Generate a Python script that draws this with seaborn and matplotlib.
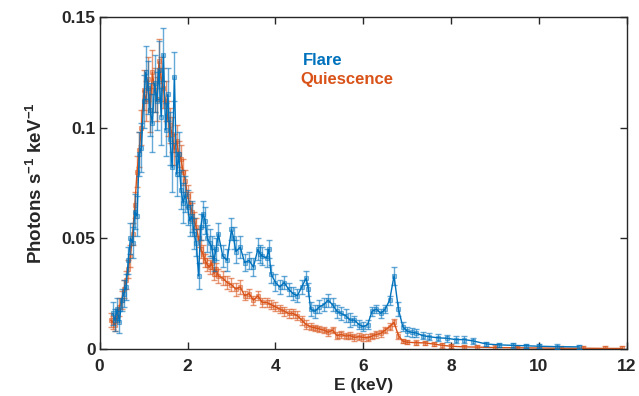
import numpy as np
import pandas as pd
import matplotlib
matplotlib.use('Agg')
import matplotlib.pyplot as plt
import seaborn as sns
from matplotlib.colors import to_rgba
from matplotlib.ticker import FormatStrFormatter

# flare spectrum
flare_e = [0.30,0.35,0.40,0.45,0.50,0.55,0.60,0.65,0.70,0.75,
           0.80,0.85,0.90,0.95,1.00,1.05,1.10,1.15,1.20,1.25,
           1.30,1.35,1.40,1.45,1.50,1.55,1.60,1.65,1.70,1.75,
           1.80,1.85,1.90,1.95,2.00,2.05,2.10,2.15,2.20,2.25,
           2.30,2.35,2.40,2.45,2.50,2.55,2.60,2.65,2.70,2.80,
           2.90,3.00,3.05,3.10,3.20,3.30,3.40,3.50,3.60,3.65,
           3.70,3.80,3.85,3.90,4.00,4.10,4.20,4.30,4.40,4.50,
           4.60,4.70,4.75,4.80,4.90,5.00,5.10,5.20,5.30,5.40,
           5.50,5.60,5.70,5.80,5.90,6.00,6.10,6.20,6.30,6.40,
           6.50,6.60,6.70,6.80,6.90,7.00,7.10,7.20,7.35,7.50,
           7.70,7.90,8.10,8.30,8.50,8.80,9.10,9.40,9.70,10.0,
           10.4,10.9]
flare_rate = [0.016,0.013,0.018,0.012,0.022,0.025,0.028,0.040,0.050,0.048,
              0.062,0.060,0.088,0.091,0.112,0.125,0.118,0.108,0.102,0.120,
              0.112,0.126,0.105,0.133,0.099,0.115,0.095,0.082,0.123,0.079,
              0.088,0.072,0.066,0.070,0.064,0.058,0.060,0.052,0.048,0.033,
              0.055,0.061,0.058,0.050,0.048,0.046,0.040,0.045,0.052,0.042,
              0.040,0.054,0.050,0.044,0.046,0.039,0.040,0.037,0.045,0.043,
              0.042,0.041,0.045,0.034,0.030,0.028,0.030,0.027,0.025,0.024,
              0.028,0.032,0.027,0.018,0.017,0.019,0.020,0.022,0.020,0.017,
              0.016,0.015,0.013,0.013,0.011,0.010,0.011,0.017,0.018,0.016,
              0.018,0.022,0.033,0.018,0.010,0.008,0.0075,0.0072,0.006,0.0055,
              0.005,0.0048,0.0042,0.0042,0.0036,0.0022,0.0018,0.0016,0.0014,0.0012,
              0.0010,0.0009]
flare_err = [0.005,0.005,0.005,0.005,0.005,0.006,0.006,0.006,0.007,0.007,
             0.008,0.009,0.010,0.011,0.012,0.012,0.012,0.012,0.013,0.013,
             0.013,0.013,0.013,0.012,0.012,0.012,0.012,0.011,0.011,0.010,
             0.010,0.009,0.009,0.008,0.008,0.007,0.007,0.007,0.006,0.006,
             0.006,0.006,0.006,0.006,0.006,0.005,0.005,0.005,0.005,0.005,
             0.005,0.005,0.005,0.005,0.005,0.004,0.004,0.004,0.005,0.004,
             0.004,0.004,0.004,0.004,0.004,0.003,0.003,0.003,0.003,0.003,
             0.003,0.003,0.003,0.003,0.003,0.003,0.003,0.003,0.003,0.003,
             0.003,0.003,0.003,0.002,0.002,0.002,0.002,0.002,0.002,0.002,
             0.002,0.002,0.004,0.003,0.002,0.002,0.002,0.002,0.0015,0.0015,
             0.0015,0.0015,0.0015,0.0015,0.0012,0.001,0.001,0.001,0.001,0.001,
             0.001,0.001]

# quiescent spectrum
quiet_e = [0.25,0.30,0.35,0.40,0.45,0.50,0.55,0.60,0.65,0.70,
           0.75,0.80,0.85,0.90,0.95,1.00,1.05,1.10,1.15,1.20,
           1.25,1.30,1.35,1.40,1.45,1.50,1.55,1.60,1.65,1.70,
           1.75,1.80,1.85,1.90,1.95,2.00,2.05,2.10,2.15,2.20,
           2.25,2.30,2.35,2.40,2.45,2.50,2.55,2.60,2.65,2.70,
           2.80,2.90,3.00,3.10,3.20,3.30,3.40,3.50,3.60,3.70,
           3.80,3.90,4.00,4.10,4.20,4.30,4.40,4.50,4.60,4.70,
           4.80,4.90,5.00,5.10,5.20,5.30,5.40,5.50,5.60,5.70,
           5.80,5.90,6.00,6.10,6.20,6.30,6.40,6.50,6.60,6.70,
           6.80,6.90,7.00,7.20,7.40,7.60,7.80,8.00,8.30,8.60,
           9.00,9.50,10.0,10.5,11.0,11.5,11.9]
quiet_rate = [0.013,0.012,0.011,0.015,0.019,0.022,0.027,0.031,0.036,0.042,
              0.052,0.065,0.080,0.090,0.100,0.117,0.112,0.122,0.108,0.125,
              0.117,0.113,0.130,0.122,0.118,0.112,0.104,0.101,0.097,0.090,
              0.094,0.088,0.086,0.080,0.076,0.069,0.066,0.062,0.058,0.055,
              0.050,0.045,0.043,0.040,0.038,0.037,0.039,0.034,0.036,0.033,
              0.032,0.030,0.029,0.027,0.028,0.024,0.025,0.022,0.024,0.021,
              0.021,0.020,0.019,0.018,0.017,0.016,0.016,0.015,0.013,0.011,
              0.010,0.0095,0.009,0.0085,0.0075,0.0085,0.006,0.0065,0.0058,0.006,
              0.0052,0.0055,0.0052,0.005,0.0058,0.0065,0.007,0.0085,0.010,0.012,
              0.006,0.0035,0.003,0.0028,0.0027,0.0022,0.0016,0.0012,0.0009,0.0008,
              0.0006,0.0005,0.0004,0.0003,0.0003,0.0002,0.0002]
quiet_err = [0.003,0.003,0.003,0.003,0.004,0.004,0.004,0.004,0.004,0.005,
             0.005,0.006,0.007,0.008,0.008,0.009,0.009,0.010,0.010,0.010,
             0.010,0.010,0.010,0.010,0.009,0.009,0.008,0.008,0.008,0.007,
             0.007,0.006,0.006,0.006,0.005,0.005,0.005,0.004,0.004,0.004,
             0.004,0.004,0.004,0.003,0.003,0.003,0.003,0.003,0.003,0.003,
             0.003,0.003,0.003,0.003,0.003,0.002,0.002,0.002,0.002,0.002,
             0.002,0.002,0.002,0.002,0.002,0.002,0.002,0.002,0.002,0.002,
             0.0015,0.0015,0.0015,0.0015,0.0015,0.0015,0.0015,0.0015,0.0015,0.0015,
             0.0015,0.0015,0.0015,0.0015,0.0015,0.0015,0.0015,0.0015,0.0015,0.0015,
             0.0015,0.001,0.001,0.001,0.001,0.001,0.001,0.001,0.001,0.001,
             0.001,0.001,0.001,0.001,0.001,0.001,0.001]

blue = '#0072BD'
orange = '#D95319'

sns.set_style('ticks')
plt.rcParams['font.family'] = ['Liberation Sans', 'DejaVu Sans']
plt.rcParams['font.weight'] = 'bold'
plt.rcParams['mathtext.fontset'] = 'custom'
plt.rcParams['mathtext.bf'] = 'Liberation Sans:bold'
plt.rcParams['mathtext.rm'] = 'Liberation Sans:bold'
plt.rcParams['mathtext.default'] = 'bf'

fig = plt.figure(figsize=(6.39, 3.96), dpi=100)
ax = fig.add_axes([0.156, 0.119, 0.825, 0.838])

flare = pd.DataFrame({'E': flare_e, 'rate': flare_rate, 'err': flare_err})
quiet = pd.DataFrame({'E': quiet_e, 'rate': quiet_rate, 'err': quiet_err})

for df, c, z in [(quiet, orange, 2), (flare, blue, 3)]:
    ax.errorbar(df['E'], df['rate'], yerr=df['err'], fmt='none', ecolor=c,
                elinewidth=1.0, capsize=2.5, capthick=1.0, alpha=0.6, zorder=z)
    sns.lineplot(data=df, x='E', y='rate', color=c, lw=1.0, marker='s',
                 markersize=3.2, markeredgecolor=to_rgba(c, 0.5),
                 markerfacecolor=to_rgba(c, 0.35), markeredgewidth=0.8,
                 ax=ax, zorder=z + 0.5, sort=False)

ax.set_xlim(0, 12)
ax.set_ylim(0, 0.15)
ax.set_xticks(np.arange(0, 13, 2))
ax.set_yticks([0, 0.05, 0.1, 0.15])
ax.yaxis.set_major_formatter(FormatStrFormatter('%g'))
ax.tick_params(direction='in', length=5, width=1, top=True, right=True,
               labelsize=12.5, colors='#262626', pad=3)
ax.tick_params(axis='x', pad=7)
for lab in ax.get_xticklabels() + ax.get_yticklabels():
    lab.set_fontweight('bold')
for s in ax.spines.values():
    s.set_visible(True)
    s.set_linewidth(1)
    s.set_color('#262626')

ax.set_xlabel('E (keV)', fontsize=12.5, fontweight='bold', labelpad=3)
ax.set_ylabel(r'Photons s$^{-1}$ keV$^{-1}$', fontsize=13.5, fontweight='bold', labelpad=11)

ax.text(0.385, 0.868, 'Flare', color=blue, fontsize=12, fontweight='bold',
        transform=ax.transAxes, va='center', ha='left')
ax.text(0.38, 0.812, 'Quiescence', color=orange, fontsize=12, fontweight='bold',
        transform=ax.transAxes, va='center', ha='left')

fig.savefig('out.png', dpi=100)
